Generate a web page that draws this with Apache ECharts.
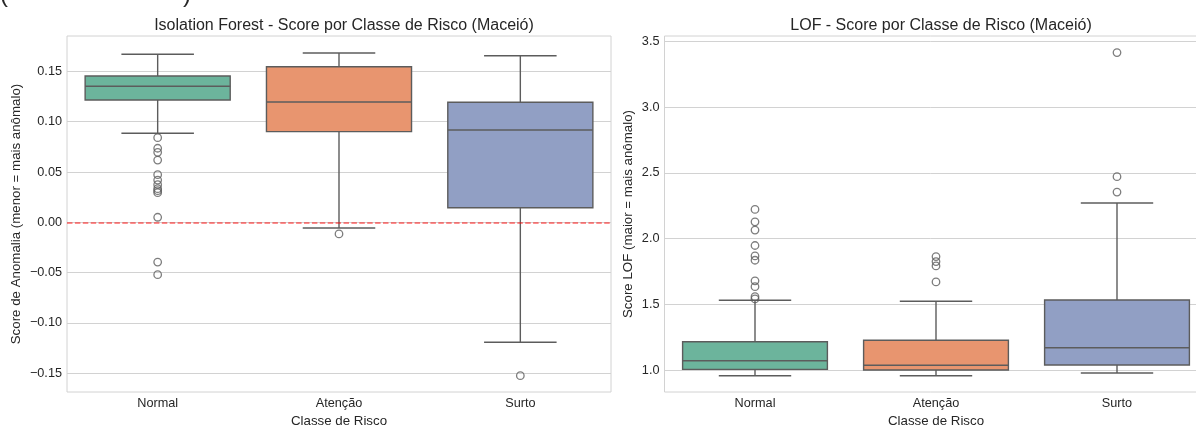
<!DOCTYPE html>
<html>
<head>
<meta charset="utf-8">
<script src="https://cdn.jsdelivr.net/npm/echarts@6/dist/echarts.min.js"></script>
<style>
  html, body { margin: 0; padding: 0; background: #fff; }
  #chart { width: 1196px; height: 425px; }
</style>
</head>
<body>
<div id="chart"></div>
<script>
var categories = ['Normal', 'Atenção', 'Surto'];

// Isolation Forest: [min whisker, Q1, mediana, Q3, max whisker]
var isoBoxes = [
	[0.0885, 0.1216, 0.1352, 0.1454, 0.1670],
	[-0.0057, 0.0901, 0.1196, 0.1547, 0.1683],
	[-0.1193, 0.0145, 0.0918, 0.1193, 0.1656]
];
var isoOutliers = [
	[0.0841, 0.0736, 0.0696, 0.0619, 0.0473, 0.0420, 0.0374, 0.0334, 0.0314, 0.0294, 0.0050, -0.0395, -0.0521],
	[-0.0116],
	[-0.1525]
];
var isoTicks = [-0.15, -0.10, -0.05, 0, 0.05, 0.10, 0.15];

// LOF
var lofBoxes = [
	[0.957, 1.005, 1.071, 1.2155, 1.531],
	[0.957, 1.000, 1.036, 1.226, 1.523],
	[0.977, 1.038, 1.170, 1.533, 2.270]
];
var lofOutliers = [
	[2.221, 2.127, 2.064, 1.947, 1.868, 1.835, 1.678, 1.634, 1.558, 1.541],
	[1.863, 1.825, 1.792, 1.670],
	[3.414, 2.470, 2.353]
];
var lofTicks = [1.0, 1.5, 2.0, 2.5, 3.0, 3.5];

var boxColors = ['#6cb49c', '#e8956f', '#919fc4'];
var lineColor = '#5c5c5c';
var gridColor = '#d2d2d2';
var textColor = '#262626';
var font = "'Liberation Sans', Arial, sans-serif";

var chartObj = echarts.init(document.getElementById('chart'));

function boxData(boxes) {
	return boxes.map(function (b, i) {
		return [i].concat(b);
	});
}

function outlierData(list) {
	var out = [];
	list.forEach(function (vals, i) {
		vals.forEach(function (v) { out.push([i, v]); });
	});
	return out;
}

// desenha caixa, whiskers e mediana
function renderBox(params, api) {
	var idx = api.value(0);
	var band = api.size([1, 0])[0];
	var half = band * 0.4, capHalf = band * 0.2;
	var pMin = api.coord([idx, api.value(1)]);
	var pQ1 = api.coord([idx, api.value(2)]);
	var pMed = api.coord([idx, api.value(3)]);
	var pQ3 = api.coord([idx, api.value(4)]);
	var pMax = api.coord([idx, api.value(5)]);
	var cx = pMin[0];
	var ls = { stroke: lineColor, lineWidth: 1.4, fill: null };
	return {
		type: 'group',
		children: [
			{ type: 'line', shape: { x1: cx, y1: pQ3[1], x2: cx, y2: pMax[1] }, style: ls },
			{ type: 'line', shape: { x1: cx, y1: pQ1[1], x2: cx, y2: pMin[1] }, style: ls },
			{ type: 'line', shape: { x1: cx - capHalf, y1: pMax[1], x2: cx + capHalf, y2: pMax[1] }, style: ls },
			{ type: 'line', shape: { x1: cx - capHalf, y1: pMin[1], x2: cx + capHalf, y2: pMin[1] }, style: ls },
			{
				type: 'rect',
				shape: { x: cx - half, y: pQ3[1], width: half * 2, height: pQ1[1] - pQ3[1] },
				style: { fill: boxColors[params.dataIndex], stroke: lineColor, lineWidth: 1.4 }
			},
			{ type: 'line', shape: { x1: cx - half, y1: pMed[1], x2: cx + half, y2: pMed[1] }, style: ls }
		]
	};
}

function fmtIso(v) {
	var s = Math.abs(v).toFixed(2);
	return v < -1e-9 ? '\u2212' + s : s;
}

function xAxisOpt(gi) {
	return {
		type: 'category',
		gridIndex: gi,
		data: categories,
		name: 'Classe de Risco',
		nameLocation: 'middle',
		nameGap: 20,
		nameTextStyle: { color: textColor, fontSize: 13.3, fontFamily: font },
		axisLine: { show: false },
		axisTick: { show: false },
		axisLabel: { color: textColor, fontSize: 12.7, fontFamily: font, margin: 5 },
		splitLine: { show: false }
	};
}

function yAxisOpt(gi, min, max, ticks, fmt, name, gap) {
	return {
		type: 'value',
		gridIndex: gi,
		min: min,
		max: max,
		name: name,
		nameLocation: 'middle',
		nameGap: gap,
		nameTextStyle: { color: textColor, fontSize: 13.3, fontFamily: font },
		axisLine: { show: false },
		axisTick: { show: false, customValues: ticks },
		axisLabel: { color: textColor, fontSize: 12.7, fontFamily: font, margin: 5, customValues: ticks, formatter: fmt },
		splitLine: { show: true, lineStyle: { color: gridColor, width: 1 } }
	};
}

var outlierStyle = { color: 'rgba(0,0,0,0)', borderColor: lineColor, borderWidth: 1.3 };

var option = {
	backgroundColor: '#fff',
	animation: false,
	title: [
		{
			text: 'Isolation Forest - Score por Classe de Risco (Maceió)',
			left: 339, top: 13, textAlign: 'center',
			textStyle: { color: textColor, fontSize: 16, fontWeight: 'normal', fontFamily: font }
		},
		{
			text: 'LOF - Score por Classe de Risco (Maceió)',
			left: 936, top: 13, textAlign: 'center',
			textStyle: { color: textColor, fontSize: 16, fontWeight: 'normal', fontFamily: font }
		}
	],
	// restos do titulo cortado no topo
	graphic: [
		{ type: 'text', left: 0, top: -17, style: { text: '(', fontSize: 24, fontFamily: font, fill: textColor } },
		{ type: 'text', left: 183, top: -17, style: { text: ')', fontSize: 24, fontFamily: font, fill: textColor } }
	],
	grid: [
		{ left: 67, top: 36, width: 544, height: 356, outerBoundsMode: 'none', show: true, borderColor: gridColor, borderWidth: 1, backgroundColor: '#fff' },
		{ left: 664.5, top: 36, width: 543, height: 356, outerBoundsMode: 'none', show: true, borderColor: gridColor, borderWidth: 1, backgroundColor: '#fff' }
	],
	xAxis: [xAxisOpt(0), xAxisOpt(1)],
	yAxis: [
		yAxisOpt(0, -0.1687, 0.1852, isoTicks, fmtIso, 'Score de Anomalia (menor = mais anômalo)', 44),
		yAxisOpt(1, 0.833, 3.540, lofTicks, function (v) { return v.toFixed(1); }, 'Score LOF (maior = mais anômalo)', 30)
	],
	series: [
		{
			type: 'custom',
			xAxisIndex: 0, yAxisIndex: 0,
			renderItem: renderBox,
			encode: { x: 0, y: [1, 2, 3, 4, 5] },
			data: boxData(isoBoxes),
			z: 2
		},
		{
			type: 'scatter',
			xAxisIndex: 0, yAxisIndex: 0,
			symbol: 'circle', symbolSize: 7.5,
			itemStyle: outlierStyle,
			data: outlierData(isoOutliers),
			z: 3,
			markLine: {
				silent: true,
				symbol: 'none',
				label: { show: false },
				lineStyle: { color: 'rgba(255,0,0,0.6)', type: [5.5, 2.4], width: 1.5 },
				data: [{ yAxis: 0 }]
			}
		},
		{
			type: 'custom',
			xAxisIndex: 1, yAxisIndex: 1,
			renderItem: renderBox,
			encode: { x: 0, y: [1, 2, 3, 4, 5] },
			data: boxData(lofBoxes),
			z: 2
		},
		{
			type: 'scatter',
			xAxisIndex: 1, yAxisIndex: 1,
			symbol: 'circle', symbolSize: 7.5,
			itemStyle: outlierStyle,
			data: outlierData(lofOutliers),
			z: 3
		}
	]
};

chartObj.setOption(option);
</script>
</body>
</html>
